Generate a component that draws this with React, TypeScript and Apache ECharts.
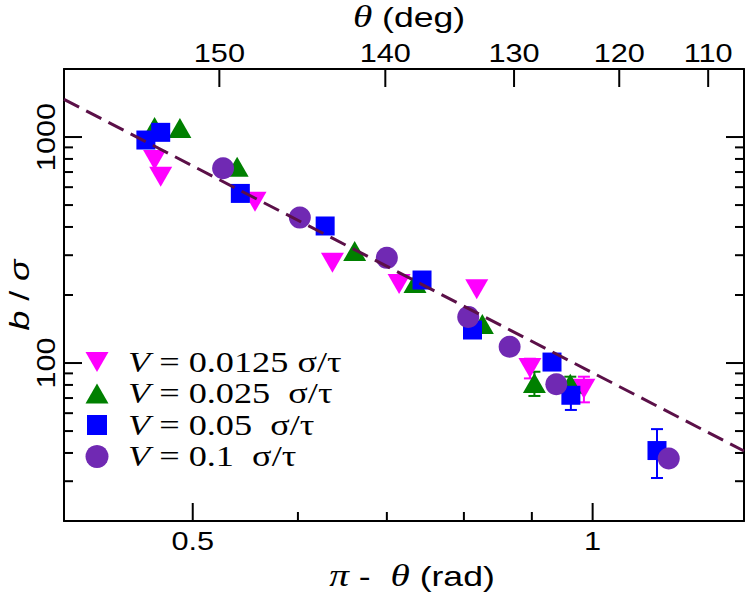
import React, { useEffect, useRef } from "react";
import * as echarts from "echarts";

// ---- data ----
const speedLabels = ["0.0125", "0.025", "0.05", "0.1"];
const speedGaps = ["\u00a0", "\u00a0\u00a0", "\u00a0\u00a0", "\u00a0\u00a0"];
const seriesColors = ["#ff00ff", "#008000", "#0000ff", "#7029b3"];

const ptsV0125 = [
  [0.468, 791], [0.473, 667], [0.557, 517], [0.637, 278],
  [0.715, 224], [0.818, 212], [0.897, 95], [0.985, 77],
];
const errV0125 = [[0.897, 95, 9.5], [0.985, 77, 10]];

const ptsV025 = [
  [0.468, 1107], [0.489, 1096], [0.54, 739], [0.662, 313],
  [0.735, 226], [0.826, 149], [0.904, 81.5], [0.962, 81],
];
const errV025 = [[0.904, 81.5, 10], [0.962, 81, 6]];

const ptsV05 = [
  [0.461, 970], [0.473, 1049], [0.543, 563], [0.629, 404], [0.744, 233],
  [0.812, 140], [0.932, 101], [0.963, 72], [1.118, 41],
];
const errV05 = [[0.963, 72, 10], [1.118, 41, 10]];

const ptsV1 = [
  [0.527, 727], [0.602, 440], [0.7, 292], [0.806, 160],
  [0.866, 118], [0.939, 80.5], [1.141, 37.8],
];
const errV1: number[][] = [];

const fitLine = [[0.4, 1468], [1.3, 40.8]];

// ticks
const xMajorTicks = [0.5, 1];
const xMinorTicks = [0.6, 0.7, 0.8, 0.9];
const thetaTicksDeg = [150, 140, 130, 120, 110];
const yMajorTicks = [100, 1000];
const yMinorTicks = [30, 40, 50, 60, 70, 80, 90, 200, 300, 400, 500, 600, 700, 800, 900];

const X_MIN = 0.4, X_MAX = 1.3, Y_MIN = 20, Y_MAX = 2000;

const allPts = [ptsV0125, ptsV025, ptsV05, ptsV1];
const allErr = [errV0125, errV025, errV05, errV1];
const symbols = ["path://M0,0L20,0L10,17.32Z", "triangle", "rect", "circle"];
const symbolSizes: any[] = [[23, 20], [23, 20], 19, 22];

const SANS = "'Liberation Sans', Arial, Helvetica, sans-serif";
const SERIF = "'Liberation Serif', 'Times New Roman', Times, serif";

const tickData: number[][] = [
  ...xMajorTicks.map((v) => [v, 100, 0, v]),
  ...xMinorTicks.map((v) => [v, 100, 1, v]),
  ...thetaTicksDeg.map((d) => [((180 - d) * Math.PI) / 180, 100, 2, d]),
  ...yMajorTicks.map((v) => [0.7, v, 3, v]),
  ...yMinorTicks.map((v) => [0.7, v, 4, v]),
];

function tickLabel(text: string, x: number, y: number, rot: number) {
  return {
    type: "text",
    x,
    y,
    rotation: rot,
    scaleX: 1.18,
    style: {
      text,
      fill: "#000",
      fontSize: 26,
      fontFamily: SANS,
      align: "center",
      verticalAlign: "middle",
      textAlign: "center",
      textVerticalAlign: "middle",
    },
  };
}

function renderTicks(params: any, api: any) {
  const cs = params.coordSys;
  const left = cs.x, top = cs.y, right = cs.x + cs.width, bottom = cs.y + cs.height;
  const kind = api.value(2);
  const p = api.coord([api.value(0), api.value(1)]);
  const ls = { stroke: "#000", lineWidth: 2 };
  const ch: any[] = [];
  const MAJ = 18, MIN = 9;
  if (kind === 0 || kind === 1) {
    const len = kind === 0 ? MAJ : MIN;
    ch.push({ type: "line", shape: { x1: p[0], y1: bottom, x2: p[0], y2: bottom - len }, style: ls });
    if (kind === 0) ch.push(tickLabel(String(api.value(3)), p[0], bottom + 20, 0));
  } else if (kind === 2) {
    ch.push({ type: "line", shape: { x1: p[0], y1: top, x2: p[0], y2: top + MAJ }, style: ls });
    ch.push(tickLabel(String(api.value(3)), p[0], top - 16, 0));
  } else {
    const len = kind === 3 ? MAJ : MIN;
    ch.push({ type: "line", shape: { x1: left, y1: p[1], x2: left + len, y2: p[1] }, style: ls });
    ch.push({ type: "line", shape: { x1: right, y1: p[1], x2: right - len, y2: p[1] }, style: ls });
    if (kind === 3) ch.push(tickLabel(String(api.value(3)), left - 18.5, p[1], Math.PI / 2));
  }
  return { type: "group", children: ch };
}

function makeErrRender(color: string) {
  return (params: any, api: any) => {
    const x = api.value(0), y = api.value(1), e = api.value(2);
    const hi = api.coord([x, y + e]);
    const lo = api.coord([x, y - e]);
    const st = { stroke: color, lineWidth: 2 };
    return {
      type: "group",
      children: [
        { type: "line", shape: { x1: hi[0], y1: hi[1], x2: lo[0], y2: lo[1] }, style: st },
        { type: "line", shape: { x1: hi[0] - 6, y1: hi[1], x2: hi[0] + 6, y2: hi[1] }, style: st },
        { type: "line", shape: { x1: lo[0] - 6, y1: lo[1], x2: lo[0] + 6, y2: lo[1] }, style: st },
      ],
    };
  };
}

function legendIcon(i: number, cx: number, cy: number) {
  const style = { fill: seriesColors[i] };
  if (i === 0) return { type: "polygon", shape: { points: [[cx - 11.5, cy - 10], [cx + 11.5, cy - 10], [cx, cy + 10]] }, style };
  if (i === 1) return { type: "polygon", shape: { points: [[cx, cy - 10], [cx + 11.5, cy + 10], [cx - 11.5, cy + 10]] }, style };
  if (i === 2) return { type: "rect", shape: { x: cx - 10, y: cy - 10, width: 20, height: 20 }, style };
  return { type: "circle", shape: { cx, cy, r: 11.5 }, style };
}

function titleText(text: string, x: number, y: number, rot: number, rich: any) {
  return {
    type: "text",
    x,
    y,
    rotation: rot,
    scaleX: 1.27,
    style: {
      text,
      fill: "#000",
      fontSize: 28,
      fontFamily: SANS,
      align: "center",
      verticalAlign: "middle",
      textAlign: "center",
      textVerticalAlign: "middle",
      rich,
    },
  };
}

export default function App() {
  const ref = useRef<HTMLDivElement>(null);
  useEffect(() => {
    if (!ref.current) return;
    const chart = echarts.init(ref.current, undefined, { renderer: "svg" });
    const axisBase = {
      type: "log",
      logBase: 10,
      axisLine: { show: true, onZero: false, lineStyle: { color: "#000", width: 2 } },
      axisTick: { show: false },
      axisLabel: { show: false },
      splitLine: { show: false },
      minorTick: { show: false },
    };
    const series: any[] = [];
    allPts.forEach((pts, i) => {
      if (allErr[i].length) {
        series.push({
          type: "custom",
          name: "err" + i,
          silent: true,
          clip: false,
          renderItem: makeErrRender(seriesColors[i]),
          data: allErr[i],
          z: 2,
        });
      }
      series.push({
        type: "scatter",
        name: "V = " + speedLabels[i] + " σ/τ",
        data: pts,
        symbol: symbols[i],
        symbolSize: symbolSizes[i],
        itemStyle: { color: seriesColors[i], opacity: 1 },
        z: 2,
      });
    });
    series.push({
      type: "line",
      name: "fit",
      data: fitLine,
      showSymbol: false,
      symbol: "none",
      lineStyle: { color: "#5b1048", width: 3, type: [17, 8] },
      z: 5,
      silent: true,
    });
    series.push({
      type: "custom",
      name: "ticks",
      silent: true,
      clip: false,
      renderItem: renderTicks,
      data: tickData,
      z: 6,
    });

    const italicSerif = { fontFamily: SERIF, fontStyle: "italic", fontSize: 31 };
    const italicSans = { fontFamily: SANS, fontStyle: "italic", fontSize: 28 };

    const legendEls: any[] = [];
    speedLabels.forEach((s, i) => {
      const cy = 362 + i * 31.5;
      legendEls.push(legendIcon(i, 97, cy));
      legendEls.push({
        type: "text",
        x: 128,
        y: cy,
        scaleX: 1.25,
        style: {
          text: "{v|V} = " + s + speedGaps[i] + "σ/τ",
          fill: "#000",
          fontSize: 29,
          fontFamily: SERIF,
          align: "left",
          verticalAlign: "middle",
          textAlign: "left",
          textVerticalAlign: "middle",
          rich: { v: { fontFamily: SERIF, fontStyle: "italic", fontSize: 29 } },
        },
      });
    });

    chart.setOption({
      animation: false,
      backgroundColor: "#fff",
      grid: { left: 64, right: 3, top: 69, bottom: 71, containLabel: false },
      xAxis: [
        { ...axisBase, min: X_MIN, max: X_MAX, position: "bottom" },
        { ...axisBase, min: X_MIN, max: X_MAX, position: "top" },
      ],
      yAxis: [
        { ...axisBase, min: Y_MIN, max: Y_MAX, position: "left" },
        { ...axisBase, min: Y_MIN, max: Y_MAX, position: "right" },
      ],
      series,
      graphic: [
        titleText("{t|θ} (deg)", 409, 17, 0, { t: italicSerif }),
        titleText("{t|π} -\u00a0\u00a0{t|θ} (rad)", 412, 576, 0, { t: italicSerif }),
        titleText("{i|b} / {i|σ}", 19, 295, Math.PI / 2, { i: italicSans }),
        ...legendEls,
      ],
    });
    return () => chart.dispose();
  }, []);
  return (
    <div
      ref={ref}
      style={{ position: "fixed", left: 0, top: 0, width: 747, height: 592, background: "#fff" }}
    />
  );
}
